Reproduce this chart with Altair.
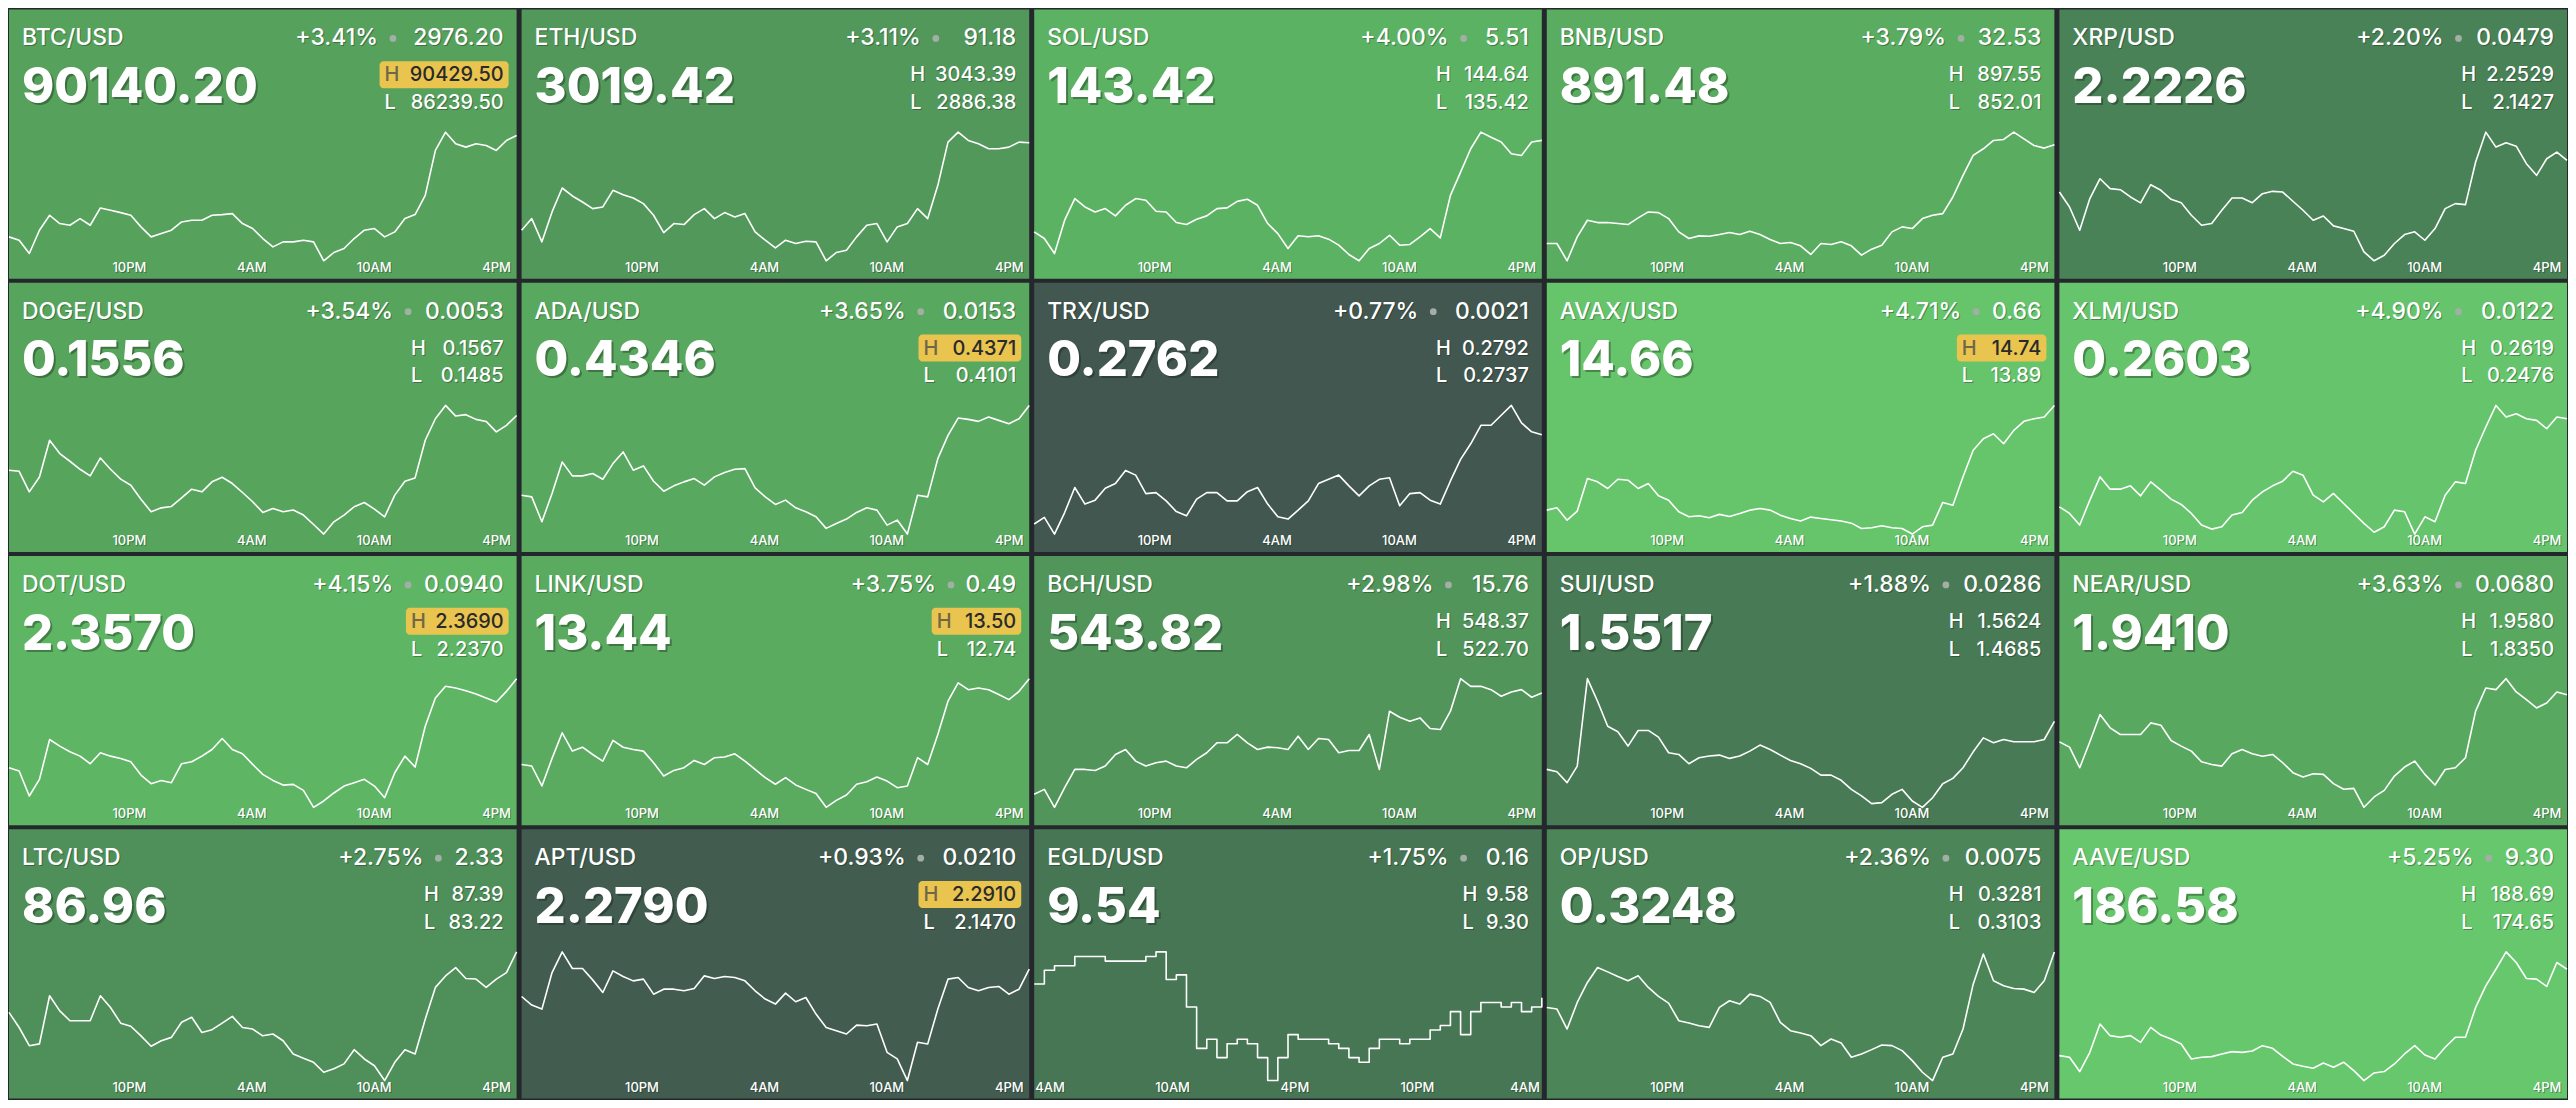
import altair as alt
import pandas as pd

# ------------------------------------------------------------------ data
symbols = ["BTC/USD", "ETH/USD", "SOL/USD", "BNB/USD", "XRP/USD",
           "DOGE/USD", "ADA/USD", "TRX/USD", "AVAX/USD", "XLM/USD",
           "DOT/USD", "LINK/USD", "BCH/USD", "SUI/USD", "NEAR/USD",
           "LTC/USD", "APT/USD", "EGLD/USD", "OP/USD", "AAVE/USD"]
pct_change = [3.41, 3.11, 4.00, 3.79, 2.20,
              3.54, 3.65, 0.77, 4.71, 4.90,
              4.15, 3.75, 2.98, 1.88, 3.63,
              2.75, 0.93, 1.75, 2.36, 5.25]
abs_change = ["2976.20", "91.18", "5.51", "32.53", "0.0479",
              "0.0053", "0.0153", "0.0021", "0.66", "0.0122",
              "0.0940", "0.49", "15.76", "0.0286", "0.0680",
              "2.33", "0.0210", "0.16", "0.0075", "9.30"]
last_price = ["90140.20", "3019.42", "143.42", "891.48", "2.2226",
              "0.1556", "0.4346", "0.2762", "14.66", "0.2603",
              "2.3570", "13.44", "543.82", "1.5517", "1.9410",
              "86.96", "2.2790", "9.54", "0.3248", "186.58"]
high_24h = ["90429.50", "3043.39", "144.64", "897.55", "2.2529",
            "0.1567", "0.4371", "0.2792", "14.74", "0.2619",
            "2.3690", "13.50", "548.37", "1.5624", "1.9580",
            "87.39", "2.2910", "9.58", "0.3281", "188.69"]
low_24h = ["86239.50", "2886.38", "135.42", "852.01", "2.1427",
           "0.1485", "0.4101", "0.2737", "13.89", "0.2476",
           "2.2370", "12.74", "522.70", "1.4685", "1.8350",
           "83.22", "2.1470", "9.30", "0.3103", "174.65"]
near_high = [True, False, False, False, False,
             False, True, False, True, False,
             True, True, False, False, False,
             False, True, False, False, False]

# time window start (hours after 4PM of the first day) and axis labels
window_start = [0.1] * 20
window_start[17] = 11.22            # EGLD window is shifted
tick_hours = [[6, 12, 18, 24]] * 20
tick_labels = [["10PM", "4AM", "10AM", "4PM"]] * 20
tick_hours[17] = [12, 18, 24, 30, 36]
tick_labels[17] = ["4AM", "10AM", "4PM", "10PM", "4AM"]
SPAN = 24.88

btc = [87019, 86911, 86478, 87236, 87723, 87452, 87398, 87615, 87398, 87961,
       87885, 87809, 87723, 87344, 87019, 87127, 87236, 87506, 87560, 87560,
       87723, 87744, 87777, 87452, 87290, 86965, 86694, 86857, 86857, 86911,
       86857, 86240, 86510, 86640, 86965, 87236, 87290, 87019, 87181, 87615,
       87744, 88372, 89834, 90429, 90050, 89942, 90050, 89996, 89834, 90159, 90321]
eth = [2923.70, 2937.90, 2909.50, 2946.02, 2975.23, 2965.49, 2958.19, 2950.07, 2952.10, 2972.39,
       2967.11, 2963.06, 2956.16, 2941.96, 2920.86, 2931.82, 2930.60, 2942.77, 2950.07, 2937.90,
       2945.21, 2939.93, 2943.99, 2921.68, 2911.53, 2902.20, 2911.53, 2907.48, 2910.32, 2909.50,
       2886.38, 2896.52, 2899.36, 2915.59, 2929.79, 2931.82, 2909.50, 2927.76, 2931.82, 2950.07,
       2937.90, 2978.47, 3031.21, 3043.39, 3033.24, 3029.19, 3023.10, 3023.10, 3025.13, 3031.21, 3030.50]
sol = [137.49, 137.02, 135.94, 138.33, 139.88, 139.28, 138.92, 139.16, 138.64, 139.40,
       139.88, 139.76, 138.97, 138.92, 138.16, 138.02, 138.40, 138.64, 139.16, 139.21,
       139.68, 139.83, 139.40, 138.09, 137.37, 136.30, 137.21, 137.14, 137.21, 136.97,
       136.54, 135.87, 135.42, 136.30, 136.66, 137.25, 136.54, 136.59, 137.14, 137.73,
       137.06, 140.11, 141.78, 143.45, 144.64, 144.28, 143.93, 143.09, 142.97, 143.93, 144.05]
bnb = [858.13, 858.13, 852.01, 860.48, 866.37, 865.54, 865.54, 865.19, 864.84, 867.19,
       869.31, 869.07, 866.95, 862.25, 859.89, 860.84, 860.72, 861.31, 862.01, 861.31,
       862.48, 861.31, 859.54, 858.13, 858.48, 857.31, 854.25, 858.13, 857.78, 858.72,
       857.31, 854.01, 856.13, 857.54, 862.25, 864.01, 863.42, 866.95, 868.13, 868.72,
       874.60, 882.25, 889.31, 891.66, 894.61, 894.96, 897.55, 895.19, 892.84, 891.90, 893.08]
xrp = [2.2016, 2.1888, 2.1689, 2.1960, 2.2130, 2.2045, 2.2036, 2.1974, 2.1923, 2.2079,
       2.2031, 2.1954, 2.1925, 2.1817, 2.1732, 2.1746, 2.1860, 2.1965, 2.1965, 2.1925,
       2.2002, 2.2022, 2.2016, 2.1937, 2.1860, 2.1774, 2.1811, 2.1726, 2.1703, 2.1680,
       2.1504, 2.1427, 2.1475, 2.1575, 2.1652, 2.1675, 2.1603, 2.1703, 2.1874, 2.1917,
       2.1908, 2.2273, 2.2529, 2.2401, 2.2438, 2.2409, 2.2259, 2.2159, 2.2301, 2.2358, 2.2287]
doge = [0.15257, 0.15250, 0.15119, 0.15214, 0.15448, 0.15363, 0.15314, 0.15263, 0.15221, 0.15335,
        0.15263, 0.15200, 0.15161, 0.15072, 0.14992, 0.15017, 0.15026, 0.15081, 0.15136, 0.15119,
        0.15183, 0.15212, 0.15172, 0.15115, 0.15056, 0.14988, 0.15013, 0.14992, 0.15003, 0.14971,
        0.14911, 0.14850, 0.14928, 0.14971, 0.15024, 0.15051, 0.15009, 0.14960, 0.15098, 0.15187,
        0.15208, 0.15448, 0.15585, 0.15670, 0.15602, 0.15611, 0.15581, 0.15568, 0.15501, 0.15543, 0.15606]
ada = [0.41826, 0.41791, 0.41268, 0.41861, 0.42524, 0.42231, 0.42231, 0.42280, 0.42161, 0.42489,
       0.42733, 0.42350, 0.42440, 0.42119, 0.41910, 0.42022, 0.42105, 0.42175, 0.42036, 0.42210,
       0.42301, 0.42370, 0.42384, 0.41980, 0.41791, 0.41631, 0.41722, 0.41561, 0.41477, 0.41373,
       0.41129, 0.41233, 0.41324, 0.41464, 0.41561, 0.41512, 0.41198, 0.41303, 0.41010, 0.41826,
       0.41791, 0.42594, 0.43082, 0.43445, 0.43417, 0.43375, 0.43466, 0.43396, 0.43326, 0.43431, 0.43710]
trx = [0.27413, 0.27441, 0.27370, 0.27462, 0.27569, 0.27498, 0.27515, 0.27566, 0.27586, 0.27642,
       0.27622, 0.27543, 0.27547, 0.27512, 0.27466, 0.27448, 0.27519, 0.27547, 0.27547, 0.27512,
       0.27512, 0.27551, 0.27569, 0.27498, 0.27444, 0.27434, 0.27472, 0.27512, 0.27586, 0.27604,
       0.27622, 0.27576, 0.27533, 0.27576, 0.27604, 0.27611, 0.27491, 0.27543, 0.27547, 0.27515,
       0.27498, 0.27597, 0.27689, 0.27756, 0.27835, 0.27835, 0.27878, 0.27920, 0.27845, 0.27807, 0.27795]
avax = [14.048, 14.064, 13.982, 14.042, 14.257, 14.235, 14.191, 14.252, 14.246, 14.191,
        14.224, 14.143, 14.114, 14.037, 14.004, 14.011, 13.998, 14.020, 14.006, 14.026,
        14.048, 14.059, 14.048, 14.015, 13.993, 13.976, 14.002, 13.993, 13.984, 13.976,
        13.962, 13.927, 13.932, 13.945, 13.932, 13.927, 13.890, 13.938, 13.949, 14.099,
        14.081, 14.268, 14.444, 14.520, 14.553, 14.487, 14.575, 14.635, 14.652, 14.663, 14.740]
xlm = [0.25063, 0.24989, 0.24860, 0.25137, 0.25396, 0.25259, 0.25259, 0.25296, 0.25185, 0.25340,
       0.25248, 0.25148, 0.25089, 0.24989, 0.24860, 0.24815, 0.24841, 0.24971, 0.25000, 0.25137,
       0.25229, 0.25296, 0.25348, 0.25458, 0.25414, 0.25192, 0.25118, 0.25211, 0.25100, 0.24989,
       0.24878, 0.24780, 0.24841, 0.25026, 0.25008, 0.24760, 0.24952, 0.24897, 0.25192, 0.25340,
       0.25322, 0.25691, 0.25950, 0.26190, 0.26061, 0.26098, 0.26042, 0.26024, 0.25931, 0.26061, 0.26042]
dot = [2.2776, 2.2742, 2.2486, 2.2657, 2.3066, 2.2998, 2.2940, 2.2895, 2.2817, 2.2929,
       2.2895, 2.2871, 2.2837, 2.2701, 2.2612, 2.2646, 2.2622, 2.2817, 2.2837, 2.2895,
       2.2963, 2.3076, 2.2963, 2.2919, 2.2810, 2.2708, 2.2646, 2.2598, 2.2605, 2.2544,
       2.2370, 2.2435, 2.2517, 2.2588, 2.2622, 2.2657, 2.2588, 2.2469, 2.2725, 2.2895,
       2.2783, 2.3202, 2.3492, 2.3612, 2.3595, 2.3567, 2.3533, 2.3492, 2.3451, 2.3560, 2.3690]
link = [12.993, 12.984, 12.866, 13.029, 13.180, 13.072, 13.095, 13.052, 13.013, 13.135,
        13.095, 13.082, 13.072, 13.003, 12.925, 12.958, 12.974, 13.017, 12.993, 13.033,
        13.037, 13.056, 13.013, 12.964, 12.915, 12.876, 12.915, 12.872, 12.846, 12.821,
        12.740, 12.781, 12.813, 12.876, 12.891, 12.919, 12.895, 12.856, 12.866, 13.033,
        12.993, 13.170, 13.367, 13.475, 13.435, 13.445, 13.435, 13.406, 13.376, 13.425, 13.500]
bch = [525.29, 526.28, 522.70, 526.61, 530.26, 530.26, 530.06, 530.93, 533.25, 534.24,
       531.92, 530.93, 531.59, 531.92, 530.93, 530.59, 532.25, 533.58, 535.57, 535.57,
       537.23, 535.57, 534.24, 534.71, 534.57, 534.24, 536.90, 534.24, 536.43, 536.23,
       533.58, 534.04, 534.04, 537.23, 530.26, 541.87, 540.68, 539.88, 540.54, 538.42,
       538.22, 541.87, 548.37, 546.84, 546.84, 546.18, 544.86, 545.72, 546.18, 544.66, 545.52]
sui = [1.4962, 1.4945, 1.4865, 1.4986, 1.5624, 1.5459, 1.5277, 1.5236, 1.5132, 1.5246,
       1.5246, 1.5197, 1.5083, 1.5071, 1.5003, 1.5047, 1.5059, 1.5066, 1.5042, 1.5059,
       1.5095, 1.5139, 1.5107, 1.5066, 1.5027, 1.5003, 1.4969, 1.4920, 1.4920, 1.4882,
       1.4816, 1.4768, 1.4712, 1.4719, 1.4780, 1.4816, 1.4731, 1.4685, 1.4755, 1.4857,
       1.4896, 1.4974, 1.5090, 1.5192, 1.5156, 1.5180, 1.5163, 1.5163, 1.5163, 1.5180, 1.5313]
near = [1.8976, 1.8925, 1.8728, 1.8976, 1.9237, 1.9110, 1.9046, 1.9046, 1.9046, 1.9157,
        1.9135, 1.8989, 1.8935, 1.8887, 1.8785, 1.8760, 1.8744, 1.8862, 1.8903, 1.8862,
        1.8839, 1.8855, 1.8776, 1.8681, 1.8639, 1.8671, 1.8665, 1.8576, 1.8522, 1.8531,
        1.8350, 1.8449, 1.8512, 1.8649, 1.8735, 1.8792, 1.8665, 1.8563, 1.8712, 1.8728,
        1.8824, 1.9269, 1.9491, 1.9475, 1.9580, 1.9453, 1.9380, 1.9300, 1.9348, 1.9453, 1.9427]
ltc = [85.43, 84.94, 84.35, 84.41, 85.97, 85.48, 85.16, 85.16, 85.16, 85.97,
       85.59, 85.08, 84.98, 84.67, 84.33, 84.51, 84.62, 85.11, 85.27, 84.78,
       84.87, 85.08, 85.30, 84.94, 84.89, 84.67, 84.73, 84.51, 84.08, 83.94,
       83.81, 83.49, 83.60, 83.76, 84.22, 83.92, 83.70, 83.22, 83.81, 84.22,
       84.08, 85.21, 86.24, 86.61, 86.88, 86.53, 86.51, 86.24, 86.51, 86.72, 87.39]
apt = [2.2411, 2.2315, 2.2270, 2.2679, 2.2910, 2.2724, 2.2724, 2.2597, 2.2456, 2.2698,
       2.2635, 2.2586, 2.2605, 2.2437, 2.2493, 2.2493, 2.2475, 2.2501, 2.2642, 2.2612,
       2.2635, 2.2624, 2.2586, 2.2475, 2.2382, 2.2326, 2.2449, 2.2352, 2.2400, 2.2214,
       2.2065, 2.2028, 2.1991, 2.2091, 2.2084, 2.2103, 2.1786, 2.1712, 2.1470, 2.1898,
       2.1879, 2.2270, 2.2605, 2.2624, 2.2512, 2.2475, 2.2512, 2.2523, 2.2437, 2.2493, 2.2717]
egld = [9.51, 9.54, 9.55, 9.55, 9.57, 9.57, 9.57, 9.56, 9.56, 9.56,
        9.56, 9.57, 9.58, 9.52, 9.53, 9.46, 9.37, 9.39, 9.35, 9.38,
        9.39, 9.38, 9.35, 9.30, 9.35, 9.40, 9.39, 9.39, 9.39, 9.38,
        9.37, 9.35, 9.34, 9.37, 9.39, 9.39, 9.38, 9.39, 9.39, 9.41,
        9.42, 9.45, 9.40, 9.45, 9.47, 9.47, 9.46, 9.47, 9.45, 9.46, 9.48]
op = [0.32042, 0.32019, 0.31743, 0.32111, 0.32387, 0.32594, 0.32534, 0.32470, 0.32410, 0.32479,
      0.32318, 0.32194, 0.32102, 0.31858, 0.31826, 0.31789, 0.31766, 0.32042, 0.32134, 0.32088,
      0.32226, 0.32194, 0.32111, 0.31835, 0.31720, 0.31688, 0.31651, 0.31513, 0.31605, 0.31550,
      0.31352, 0.31398, 0.31458, 0.31522, 0.31513, 0.31444, 0.31306, 0.31145, 0.31030, 0.31352,
      0.31398, 0.31743, 0.32364, 0.32780, 0.32410, 0.32341, 0.32304, 0.32295, 0.32249, 0.32410, 0.32810]
aave = [177.37, 177.19, 175.63, 177.73, 180.82, 179.55, 179.37, 179.55, 178.82, 180.45,
        179.62, 179.19, 178.64, 177.01, 177.19, 177.26, 177.55, 177.81, 177.73, 177.88,
        178.46, 178.17, 177.30, 176.46, 176.21, 175.99, 176.57, 176.10, 176.65, 175.74,
        174.65, 175.48, 175.63, 176.46, 177.55, 178.46, 177.44, 177.01, 178.28, 179.37,
        179.37, 182.63, 184.99, 186.80, 188.69, 187.53, 185.79, 185.72, 184.92, 187.53, 186.80]

series_values = [btc, eth, sol, bnb, xrp, doge, ada, trx, avax, xlm,
                 dot, link, bch, sui, near, ltc, apt, egld, op, aave]

# ------------------------------------------------------------------ style
W, H = 509, 270
RIGHT = 496
FONT = "Inter"
SHADOW = "#10180f"

fill_scale = alt.Scale(
    domain=[0.77, 1.9, 2.4, 3.0, 3.5, 4.0, 4.7, 5.25],
    range=["#41574f", "#487b55", "#4c8758", "#51955a", "#57a45d", "#5cb263", "#66c46b", "#67c76d"],
    interpolate="rgb",
)

CHAR_W = {".": 0.30}


def text_width(s, size):
    return sum(CHAR_W.get(c, 0.66) for c in s) * size


def text_layer(data, field, x, y, size, weight, align="left", color="white", shadow=1):
    layers = []
    if shadow:
        layers.append(
            alt.Chart(data).mark_text(
                align=align, baseline="alphabetic", font=FONT, fontSize=size,
                fontWeight=weight, color=SHADOW, opacity=0.35, dx=shadow, dy=shadow,
            ).encode(x=alt.value(x), y=alt.value(y), text=alt.Text(f"{field}:N"))
        )
    layers.append(
        alt.Chart(data).mark_text(
            align=align, baseline="alphabetic", font=FONT, fontSize=size,
            fontWeight=weight, color=color,
        ).encode(x=alt.value(x), y=alt.value(y), text=alt.Text(f"{field}:N"))
    )
    return layers


def make_tile(i):
    vals = series_values[i]
    n = len(vals)
    start = window_start[i]
    step = SPAN / (n - 1)
    line_df = pd.DataFrame({"hour": [start + k * step for k in range(n)], "price": vals})
    lo, hi = float(low_24h[i]), float(high_24h[i])
    xs = alt.Scale(domain=[start, start + SPAN], nice=False, zero=False)

    info = pd.DataFrame({
        "sym": [symbols[i]],
        "pct": [pct_change[i]],
        "pct_txt": [f"+{pct_change[i]:.2f}%"],
        "chg": [abs_change[i]],
        "last": [last_price[i]],
        "hi": [high_24h[i]],
        "lo": [low_24h[i]],
        "H": ["H"],
        "L": ["L"],
    })

    bg = alt.Chart(info).mark_rect().encode(
        x=alt.value(0), x2=alt.value(W), y=alt.value(0), y2=alt.value(H),
        fill=alt.Fill("pct:Q", scale=fill_scale, legend=None),
    )

    line = alt.Chart(line_df).mark_line(
        color="white", strokeWidth=1.6, strokeJoin="round",
        interpolate="step-after" if symbols[i] == "EGLD/USD" else "linear",
    ).encode(
        x=alt.X("hour:Q", scale=xs, axis=None),
        y=alt.Y("price:Q", scale=alt.Scale(domain=[lo, hi], range=[252, 123], nice=False, zero=False),
                axis=None),
    )

    ticks = pd.DataFrame({"hour": tick_hours[i], "label": tick_labels[i]})
    edge = start + SPAN - 0.8
    layers = [bg, line]
    for sub, align in ((ticks[ticks.hour < edge], "center"), (ticks[ticks.hour >= edge], "right")):
        if len(sub) == 0:
            continue
        for dxy, col, op_ in ((1, SHADOW, 0.35), (0, "white", 1.0)):
            layers.append(
                alt.Chart(sub).mark_text(
                    align=align, baseline="alphabetic", font=FONT, fontSize=13,
                    fontWeight=500, color=col, opacity=op_, dx=dxy, dy=dxy,
                ).encode(x=alt.X("hour:Q", scale=xs, axis=None), y=alt.value(263),
                         text=alt.Text("label:N"))
            )

    # header row
    layers += text_layer(info, "sym", 13, 36, 23, 500)
    w_chg = text_width(abs_change[i], 23)
    dot_x = RIGHT - w_chg - 13
    layers += text_layer(info, "chg", RIGHT, 36, 23, 500, align="right")
    layers.append(
        alt.Chart(info).mark_circle(size=46, color="#a3afa6", opacity=1).encode(
            x=alt.value(dot_x), y=alt.value(29))
    )
    layers += text_layer(info, "pct_txt", dot_x - 15, 36, 23, 500, align="right")

    # big price
    layers += text_layer(info, "last", 13, 94, 49, 800, shadow=2)

    # high / low
    w_num = max(text_width(high_24h[i], 20), text_width(low_24h[i], 20))
    letter_x = RIGHT - w_num - 21
    if near_high[i]:
        layers.append(
            alt.Chart(info).mark_rect(color="#e9c44f", cornerRadius=4).encode(
                x=alt.value(letter_x - 5), x2=alt.value(501), y=alt.value(52), y2=alt.value(79))
        )
        layers += text_layer(info, "H", letter_x, 72, 20, 500, color="#6e6748", shadow=0)
        layers += text_layer(info, "hi", RIGHT, 72, 20, 500, align="right", color="#2a2a2a", shadow=0)
    else:
        layers += text_layer(info, "H", letter_x, 72, 20, 500)
        layers += text_layer(info, "hi", RIGHT, 72, 20, 500, align="right")
    layers += text_layer(info, "L", letter_x, 100, 20, 500)
    layers += text_layer(info, "lo", RIGHT, 100, 20, 500, align="right")

    return alt.layer(*layers).properties(width=W, height=H)


tiles = [make_tile(i) for i in range(20)]
rows = [
    alt.hconcat(*tiles[r * 5:(r + 1) * 5], spacing=3)
    .resolve_scale(x="independent", y="independent")
    for r in range(4)
]
chart = (
    alt.vconcat(*rows, spacing=4, padding=0)
    .resolve_scale(x="independent", y="independent")
    .configure(background="#24272c")
    .configure_view(stroke=None, strokeWidth=0)
)

chart.save("out.html", embed_options={"renderer": "svg", "actions": False})
